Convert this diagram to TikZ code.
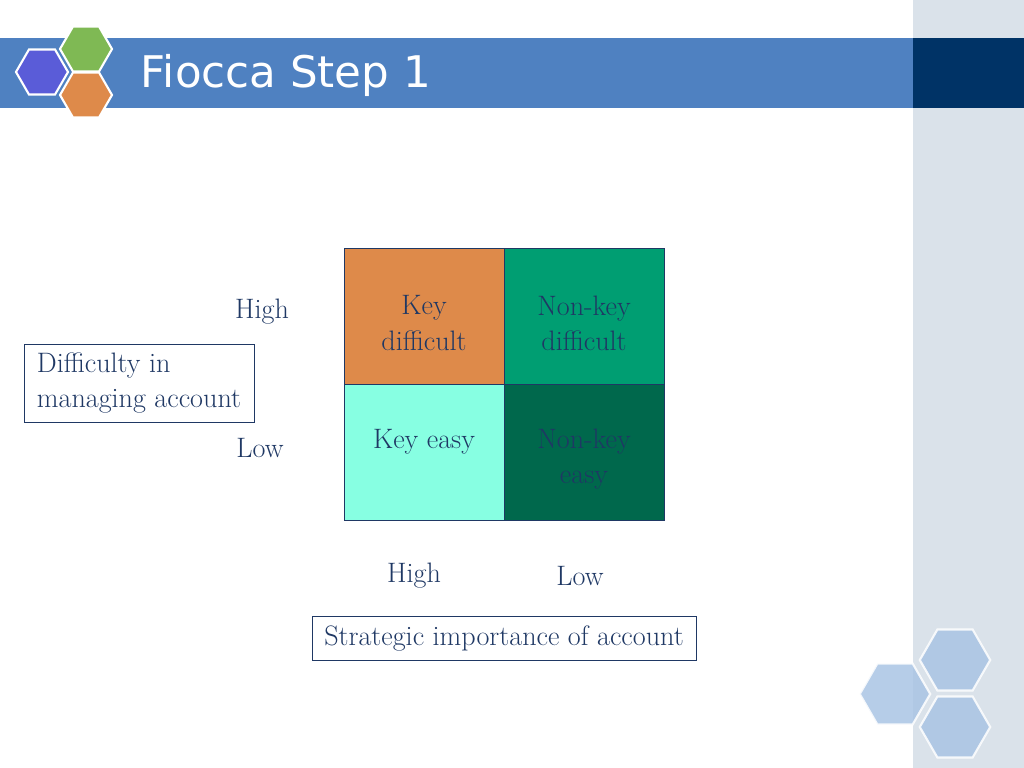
\documentclass[tikz,border=0pt]{standalone}
\usepackage{fontspec}
\setsansfont{DejaVu Sans}
\usepackage{tikz}
\definecolor{barblue}{HTML}{4F81C1}
\definecolor{barnavy}{HTML}{003366}
\definecolor{sidegray}{HTML}{DAE2EA}
\definecolor{txtnavy}{HTML}{1F3864}
\definecolor{cellorange}{HTML}{DE8A4A}
\definecolor{cellteal}{HTML}{009E72}
\definecolor{cellaqua}{HTML}{87FFE2}
\definecolor{celldark}{HTML}{00684C}
\definecolor{hexblue}{HTML}{5A5CD8}
\definecolor{hexgreen}{HTML}{7FB954}
\definecolor{hexorange}{HTML}{DE8A4A}
\definecolor{hexpale}{HTML}{A9C4E4}
\newcommand{\hexat}[4]{% x, y, radius, fill
  \filldraw[fill=#4,draw=white,line width=1.5pt, shift={(#1,#2)}]
    (0:#3) -- (60:#3) -- (120:#3) -- (180:#3) -- (240:#3) -- (300:#3) -- cycle;}
\tikzset{
  lbl/.style={font=\fontsize{20}{25}\selectfont, text=txtnavy, align=center},
  cell/.style={draw=txtnavy, line width=.8pt, minimum width=4cm, minimum height=3.4cm,
    anchor=north west, inner sep=0pt},
  axisbox/.style={draw=txtnavy, line width=.6pt, lbl}
}
\begin{document}
\begin{tikzpicture}[x=0.025cm,y=-0.025cm]
  \useasboundingbox (0,0) rectangle (1024,768);
  % background bands
  \fill[sidegray] (913,0) rectangle (1024,768);
  \fill[barblue] (0,38) rectangle (913,108);
  \fill[barnavy] (913,38) rectangle (1024,108);
  % hexagons
  \hexat{42}{72}{0.65cm}{hexblue}
  \hexat{86}{49}{0.65cm}{hexgreen}
  \hexat{86}{95}{0.65cm}{hexorange}
  \begin{scope}[opacity=.85]
    \hexat{955}{660}{0.88cm}{hexpale}
    \hexat{895}{694}{0.88cm}{hexpale}
    \hexat{955}{727}{0.88cm}{hexpale}
  \end{scope}
  \node[anchor=west, text=white, font=\sffamily\fontsize{31}{36}\selectfont] (title) at (136,75) {Fiocca Step 1};
  % matrix cells
  \node[cell, fill=cellorange] (kd) at (344,248) {};
  \node[cell, fill=cellteal] (nkd) at (504,248) {};
  \node[cell, fill=cellaqua] (ke) at (344,384) {};
  \node[cell, fill=celldark] (nke) at (504,384) {};
  \node[lbl] at (424,323) {Key\\difficult};
  \node[lbl] at (584,323) {Non-key\\difficult};
  \node[lbl] at (424,442) {Key easy};
  \node[lbl] at (584,459) {Non-key\\easy};
  % axis labels
  \node[lbl] (yhigh) at (262,312) {High};
  \node[lbl] (ylow) at (260,448) {Low};
  \node[axisbox, align=left, minimum width=5.75cm, minimum height=1.95cm] (yaxis) at (139,383) {Difficulty in\\managing account};
  \node[lbl] (xhigh) at (414,576) {High};
  \node[lbl] (xlow) at (580,576) {Low};
  \node[axisbox, minimum width=9.6cm, minimum height=1.1cm] (xaxis) at (504,638) {Strategic importance of account};
\end{tikzpicture}
\end{document}
